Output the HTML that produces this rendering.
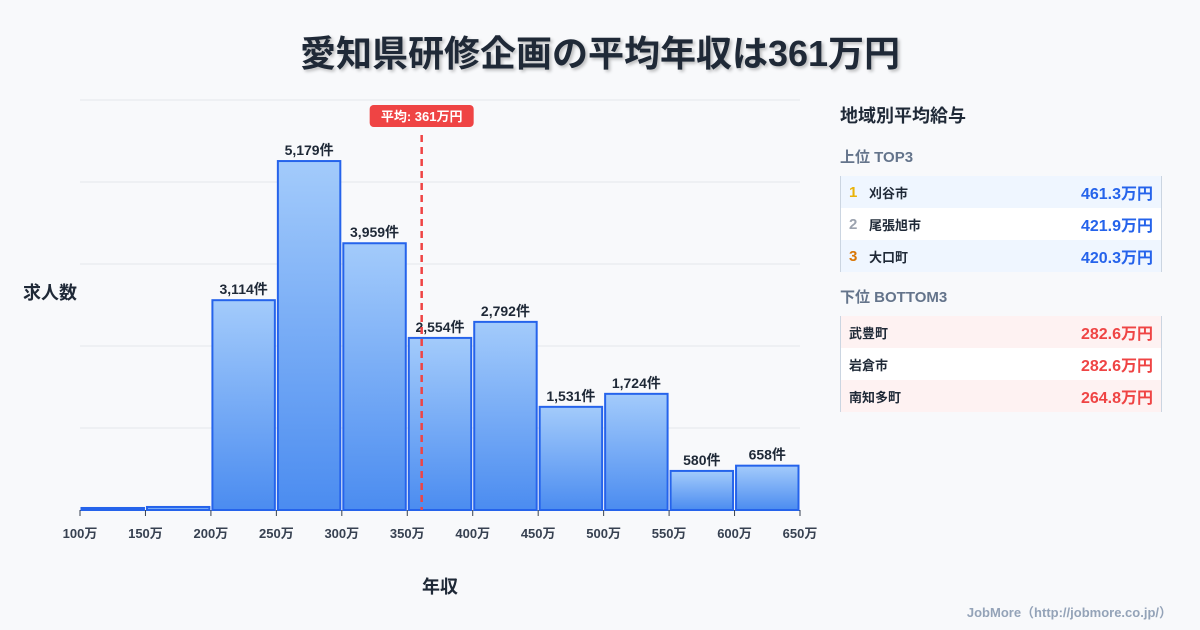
<!DOCTYPE html>
<html><head><meta charset="utf-8"><style>
body{margin:0;width:1200px;height:630px;background:#f8f9fb;font-family:"Liberation Sans","Noto Sans CJK JP",sans-serif;overflow:hidden;position:relative;color:#1f2937}
.t{position:absolute;left:0;width:1200px;top:30px;text-align:center;font-size:36px;line-height:48px;font-weight:bold;color:#1f2937;text-shadow:2px 2px 3px rgba(0,0,0,.25)}
.a{position:absolute;left:840px;width:320px}
.ph{font-size:18px;line-height:24px;font-weight:bold;color:#1f2937}
.sh{font-size:15px;line-height:20px;font-weight:bold;color:#64748b}
.tbl{border-left:1px solid #cbd5e1;border-right:1px solid #cbd5e1}
.row{height:32px;display:flex;align-items:center;font-size:13px;font-weight:bold;padding:0 8px}
.row .r{width:20px;font-size:15px}
.row .n{flex:1}
.row .v{font-size:16px}
.foot{position:absolute;right:28px;top:602px;font-size:13px;font-weight:bold;color:#94a3b8}
</style></head><body>
<div class="t">愛知県研修企画の平均年収は361万円</div>
<svg id="chart" width="1200" height="630" style="position:absolute;left:0;top:0"></svg>
<div class="a ph" style="top:104px">地域別平均給与</div>
<div class="a sh" style="top:148px">上位 TOP3</div>
<div class="a tbl" style="top:176px">
<div class="row" style="background:#eff6ff"><span class="r" style="color:#eab308">1</span><span class="n">刈谷市</span><span class="v" style="color:#2563eb">461.3万円</span></div>
<div class="row" style="background:#fff"><span class="r" style="color:#9ca3af">2</span><span class="n">尾張旭市</span><span class="v" style="color:#2563eb">421.9万円</span></div>
<div class="row" style="background:#eff6ff"><span class="r" style="color:#d97706">3</span><span class="n">大口町</span><span class="v" style="color:#2563eb">420.3万円</span></div>
</div>
<div class="a sh" style="top:288px">下位 BOTTOM3</div>
<div class="a tbl" style="top:316px">
<div class="row" style="background:#fef2f2"><span class="n">武豊町</span><span class="v" style="color:#ef4444">282.6万円</span></div>
<div class="row" style="background:#fff"><span class="n">岩倉市</span><span class="v" style="color:#ef4444">282.6万円</span></div>
<div class="row" style="background:#fef2f2"><span class="n">南知多町</span><span class="v" style="color:#ef4444">264.8万円</span></div>
</div>
<div class="foot">JobMore（http://jobmore.co.jp/）</div>
<script>
const binStarts=[100,150,200,250,300,350,400,450,500,550,600];
const counts=[30,45,3114,5179,3959,2554,2792,1531,1724,580,658];
const tickValues=[100,150,200,250,300,350,400,450,500,550,600,650];
const meanValue=361;
const yMax=6085;
const X0=80,X1=800,Y0=510,Y1=100;
const sx=v=>X0+(v-100)/(650-100)*(X1-X0);
const sy=v=>Y0-v/yMax*(Y0-Y1);
const svg=document.getElementById('chart');
const NS='http://www.w3.org/2000/svg';
function mk(t,a){const e=document.createElementNS(NS,t);for(const k in a)e.setAttribute(k,a[k]);svg.appendChild(e);return e;}
const defs=mk('defs',{});
defs.innerHTML='<linearGradient id="g" x1="0" y1="0" x2="0" y2="1"><stop offset="0" stop-color="#a3cbfb"/><stop offset="1" stop-color="#4b8cf0"/></linearGradient>';
for(let i=0;i<5;i++){const y=Y1+i*82;const l=mk('line',{x1:X0,x2:X1,y1:y,y2:y,stroke:'#e5e7eb','stroke-width':1});
}
counts.forEach((c,i)=>{const x=sx(binStarts[i])+1.5,w=sx(binStarts[i]+50)-sx(binStarts[i])-3;const y=sy(c);
const r=mk('rect',{x:x,y:y,width:w,height:Y0-y,fill:'url(#g)',stroke:'#2563eb','stroke-width':2});

if(c>500){const t=mk('text',{x:x+w/2,y:y-6,'text-anchor':'middle','font-size':14,'font-weight':'bold',fill:'#1f2937'});t.textContent=c.toLocaleString('en-US')+'件';
}});
tickValues.forEach(v=>{const x=sx(v);const l=mk('line',{x1:x,x2:x,y1:Y0,y2:Y0+6,stroke:'#374151','stroke-width':1});

const t=mk('text',{x:x,y:Y0+28,'text-anchor':'middle','font-size':13,'font-weight':'bold',fill:'#374151'});t.textContent=v+'万';
});
const mx=sx(meanValue);
const ml=mk('line',{x1:mx,x2:mx,y1:135,y2:Y0,stroke:'#ef4444','stroke-width':2.5,'stroke-dasharray':'7,5'});

const mb=mk('rect',{x:mx-52,y:105,width:104,height:22,rx:4,fill:'#ef4444'});

const mt=mk('text',{x:mx,y:121,'text-anchor':'middle','font-size':13,'font-weight':'bold',fill:'#fff'});mt.textContent='平均: '+meanValue+'万円';

const yt=mk('text',{x:50,y:299,'text-anchor':'middle','font-size':18,'font-weight':'bold',fill:'#1f2937'});yt.textContent='求人数';

const xt=mk('text',{x:440,y:593,'text-anchor':'middle','font-size':18,'font-weight':'bold',fill:'#1f2937'});xt.textContent='年収';

</script>
</body></html>
